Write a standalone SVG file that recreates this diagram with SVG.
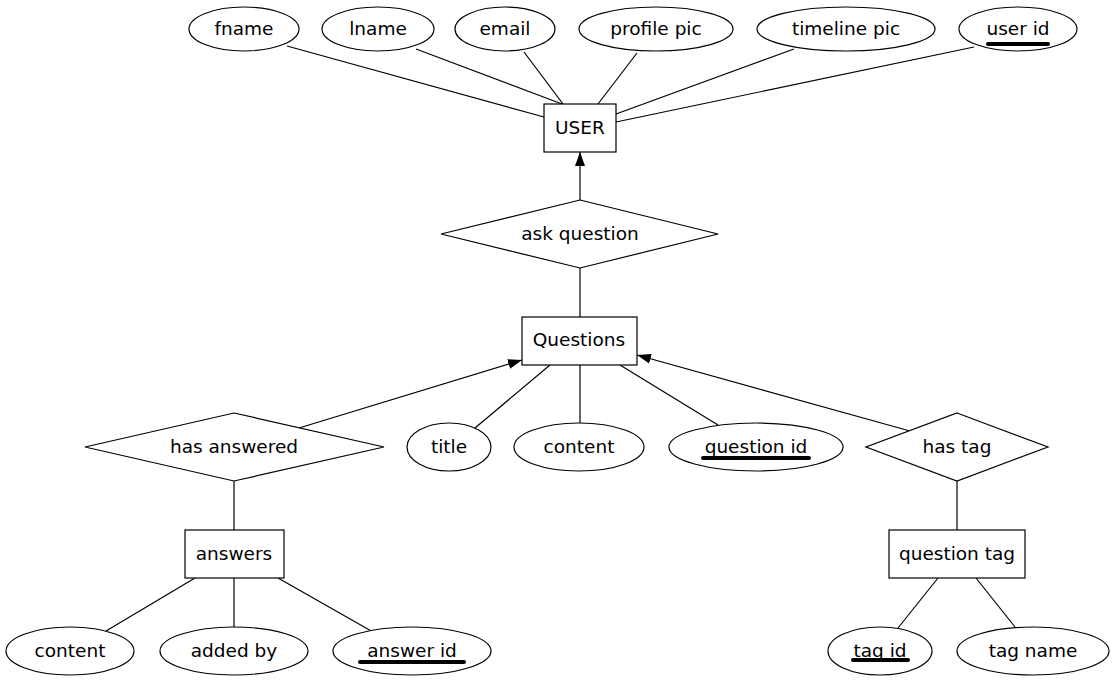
<svg xmlns="http://www.w3.org/2000/svg" width="1116" height="683" viewBox="0 0 1116 683">
<style>
.n{fill:#fff;stroke:#000;stroke-width:1.2}
.e line{stroke:#000;stroke-width:1.2}
text{font-family:"DejaVu Sans",sans-serif;font-size:18.5px;text-anchor:middle;fill:#000}
.u{stroke:#000;stroke-width:4;stroke-linecap:round}
</style>
<defs>
<marker id="ah" markerWidth="14" markerHeight="11" refX="14" refY="5.5" orient="auto" markerUnits="userSpaceOnUse" viewBox="0 0 14 11">
<path d="M0,0.5 L14,5.5 L0,10.5 Z" fill="#000"/>
</marker>
</defs>
<rect width="1116" height="683" fill="#fff"/>
<g class="e" id="connectors">
<line x1="287" y1="46" x2="544" y2="117"/>
<line x1="416" y1="49" x2="562" y2="104"/>
<line x1="524" y1="52" x2="563" y2="104"/>
<line x1="637" y1="53" x2="598" y2="104"/>
<line x1="794" y1="49" x2="616" y2="114"/>
<line x1="974" y1="47" x2="616" y2="122"/>
<line x1="580" y1="200" x2="580" y2="152" marker-end="url(#ah)"/>
<line x1="580" y1="268" x2="580" y2="317"/>
<line x1="299" y1="428" x2="522" y2="360" marker-end="url(#ah)"/>
<line x1="475" y1="428" x2="550" y2="365"/>
<line x1="580" y1="423" x2="580" y2="365"/>
<line x1="718" y1="425" x2="620" y2="365"/>
<line x1="910" y1="431" x2="637" y2="355" marker-end="url(#ah)"/>
<line x1="234" y1="481" x2="234" y2="530"/>
<line x1="957" y1="481" x2="957" y2="530"/>
<line x1="106" y1="631" x2="195" y2="578"/>
<line x1="234" y1="627" x2="234" y2="578"/>
<line x1="373" y1="632" x2="278" y2="578"/>
<line x1="898" y1="628" x2="938" y2="578"/>
<line x1="1015" y1="627" x2="976" y2="578"/>
</g>
<g id="fname"><ellipse class="n" cx="244" cy="29" rx="55" ry="22"/><text x="244" y="35">fname</text></g>
<g id="lname"><ellipse class="n" cx="378" cy="29" rx="56" ry="22"/><text x="378" y="35">lname</text></g>
<g id="email"><ellipse class="n" cx="505" cy="29" rx="50" ry="22"/><text x="505" y="35">email</text></g>
<g id="profilepic"><ellipse class="n" cx="656" cy="29" rx="77" ry="22"/><text x="656" y="35">profile pic</text></g>
<g id="timelinepic"><ellipse class="n" cx="846" cy="29" rx="89" ry="22"/><text x="846" y="35">timeline pic</text></g>
<g id="userid"><ellipse class="n" cx="1018" cy="29" rx="59" ry="22"/><text x="1018" y="35">user id</text><line class="u" x1="988" y1="44" x2="1048" y2="44"/></g>
<g id="user"><rect class="n" x="544" y="104" width="72" height="48"/><text x="580" y="134">USER</text></g>
<g id="askquestion"><polygon class="n" points="580,200 718,234 580,268 441,234"/><text x="580" y="240">ask question</text></g>
<g id="questions"><rect class="n" x="522" y="317" width="115" height="48"/><text x="579" y="346">Questions</text></g>
<g id="hasanswered"><polygon class="n" points="234,413 384,447 234,481 85,447"/><text x="234" y="453">has answered</text></g>
<g id="title"><ellipse class="n" cx="449" cy="447" rx="42" ry="24"/><text x="449" y="453">title</text></g>
<g id="content"><ellipse class="n" cx="579" cy="447" rx="65" ry="24"/><text x="579" y="453">content</text></g>
<g id="questionid"><ellipse class="n" cx="756" cy="447" rx="87" ry="24"/><text x="756" y="453">question id</text><line class="u" x1="703" y1="458" x2="809" y2="458"/></g>
<g id="hastag"><polygon class="n" points="957,413 1048,447 957,481 866,447"/><text x="957" y="453">has tag</text></g>
<g id="answers"><rect class="n" x="185" y="530" width="99" height="48"/><text x="234" y="560">answers</text></g>
<g id="questiontag"><rect class="n" x="889" y="530" width="136" height="48"/><text x="957" y="560">question tag</text></g>
<g id="content2"><ellipse class="n" cx="70" cy="651" rx="64" ry="24"/><text x="70" y="657">content</text></g>
<g id="addedby"><ellipse class="n" cx="234" cy="651" rx="74" ry="24"/><text x="234" y="657">added by</text></g>
<g id="answerid"><ellipse class="n" cx="412" cy="651" rx="79" ry="24"/><text x="412" y="657">answer id</text><line class="u" x1="360" y1="662" x2="464" y2="662"/></g>
<g id="tagid"><ellipse class="n" cx="880" cy="651" rx="52" ry="24"/><text x="880" y="657">tag id</text><line class="u" x1="853" y1="660" x2="908" y2="660"/></g>
<g id="tagname"><ellipse class="n" cx="1033" cy="651" rx="76" ry="24"/><text x="1033" y="657">tag name</text></g>
</svg>
